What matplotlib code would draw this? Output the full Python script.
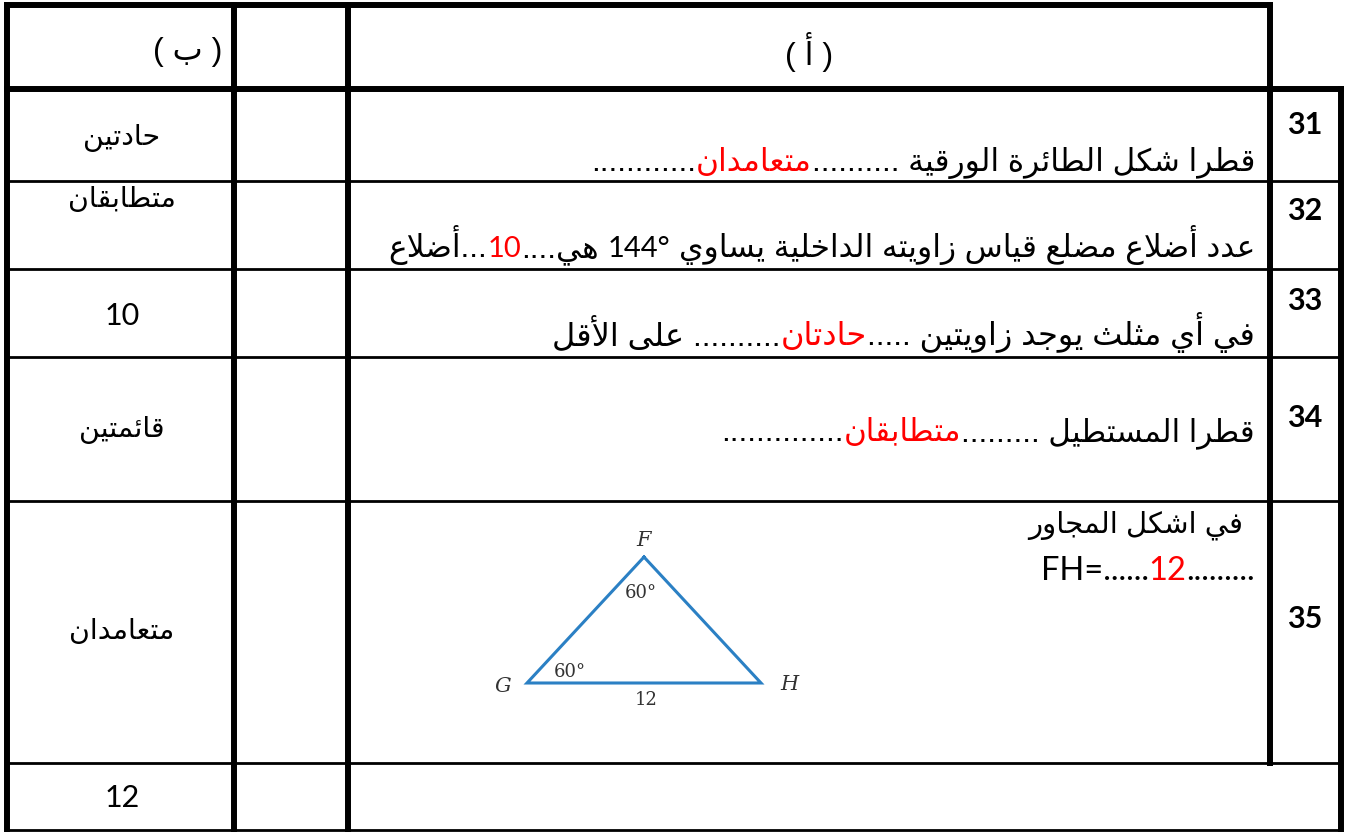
import re
import matplotlib
matplotlib.use('Agg')
import matplotlib.pyplot as plt

# ---- table content ----
headers = ['( ب )', '( أ )']
row_numbers = ['31', '32', '33', '34', '35']
answers_b = ['حادتين', 'متطابقان', '10', 'قائمتين', 'متعامدان', '12']

# statements, in reading order: (text, colour, font kind)
stmt_31 = [('قطرا شكل الطائرة الورقية ..........', 'black', 'ar'), ('متعامدان', 'red', 'ar'),
           ('............', 'black', 'ar')]
stmt_32 = [('عدد أضلاع مضلع قياس زاويته الداخلية يساوي ', 'black', 'ar'), ('144°', 'black', 'num'),
           (' هي....', 'black', 'ar'), ('10', 'red', 'num'), ('...أضلاع', 'black', 'ar')]
stmt_33 = [('في أي مثلث يوجد زاويتين .....', 'black', 'ar'), ('حادتان', 'red', 'ar'),
           ('.......... على الأقل', 'black', 'ar')]
stmt_34 = [('قطرا المستطيل .........', 'black', 'ar'), ('متطابقان', 'red', 'ar'),
           ('..............', 'black', 'ar')]
stmt_35 = [(' في اشكل المجاور', 'black', 'ar')]
fh_line = [('FH=......', 'black', 'num'), ('12', 'red', 'num'), ('.........', 'black', 'num')]

# triangle FGH
tri_names = ['F', 'G', 'H']
tri_angles = ['60°', '60°']
tri_side = '12'

# ---- minimal arabic shaping (matplotlib has no complex text layout) ----
FORMS = {
    'ء': (0xFE80, 1), 'آ': (0xFE81, 2), 'أ': (0xFE83, 2), 'ؤ': (0xFE85, 2), 'إ': (0xFE87, 2),
    'ئ': (0xFE89, 4), 'ا': (0xFE8D, 2), 'ب': (0xFE8F, 4), 'ة': (0xFE93, 2), 'ت': (0xFE95, 4),
    'ث': (0xFE99, 4), 'ج': (0xFE9D, 4), 'ح': (0xFEA1, 4), 'خ': (0xFEA5, 4), 'د': (0xFEA9, 2),
    'ذ': (0xFEAB, 2), 'ر': (0xFEAD, 2), 'ز': (0xFEAF, 2), 'س': (0xFEB1, 4), 'ش': (0xFEB5, 4),
    'ص': (0xFEB9, 4), 'ض': (0xFEBD, 4), 'ط': (0xFEC1, 4), 'ظ': (0xFEC5, 4), 'ع': (0xFEC9, 4),
    'غ': (0xFECD, 4), 'ف': (0xFED1, 4), 'ق': (0xFED5, 4), 'ك': (0xFED9, 4), 'ل': (0xFEDD, 4),
    'م': (0xFEE1, 4), 'ن': (0xFEE5, 4), 'ه': (0xFEE9, 4), 'و': (0xFEED, 2), 'ى': (0xFEEF, 2),
    'ي': (0xFEF1, 4),
}
LAM_ALEF = {'آ': 0xFEF5, 'أ': 0xFEF7, 'إ': 0xFEF9, 'ا': 0xFEFB}
MIRROR = {'(': ')', ')': '('}


def links_next(u):
    return isinstance(u, str) and u in FORMS and FORMS[u][1] == 4


def links_prev(u):
    return isinstance(u, tuple) or (u in FORMS and FORMS[u][1] > 1)


def shape(text):
    units = []
    i = 0
    while i < len(text):
        c = text[i]
        if c == 'ل' and i + 1 < len(text) and text[i + 1] in LAM_ALEF:
            units.append(('la', LAM_ALEF[text[i + 1]]))
            i += 2
        else:
            units.append(c)
            i += 1
    out = []
    for k, u in enumerate(units):
        prev = units[k - 1] if k > 0 else None
        nxt = units[k + 1] if k + 1 < len(units) else None
        p = prev is not None and links_next(prev)
        if isinstance(u, tuple):
            out.append(chr(u[1] + int(p)))
        elif u in FORMS:
            base, n = FORMS[u]
            q = nxt is not None and links_next(u) and links_prev(nxt)
            if n == 4:
                off = {(False, False): 0, (True, False): 1, (False, True): 2, (True, True): 3}[(p, q)]
            elif n == 2:
                off = int(p)
            else:
                off = 0
            out.append(chr(base + off))
        else:
            out.append(u)
    return ''.join(out)


def visual(text):
    s = shape(text)[::-1]
    s = ''.join(MIRROR.get(c, c) for c in s)
    return re.sub(r'[0-9A-Za-z°=]+', lambda m: m.group(0)[::-1], s)


AR = ['Liberation Sans', 'DejaVu Sans']
CAL = ['Lato', 'DejaVu Sans']

W, H = 1349, 832
fig = plt.figure(figsize=(W / 100, H / 100), dpi=100)
ax = fig.add_axes([0, 0, 1, 1])
ax.set_xlim(0, W)
ax.set_ylim(H, 0)
ax.axis('off')
renderer = fig.canvas.get_renderer()

# ---- grid ----
THICK, THIN = 4.3, 2.0
col_x = [7, 234, 348, 1270, 1341]
row_y = [5, 89, 181, 269, 357, 501, 763, 830]


def hline(y, x0, x1, lw):
    ax.plot([x0, x1], [y, y], color='black', lw=lw, solid_capstyle='projecting')


def vline(x, y0, y1, lw):
    ax.plot([x, x], [y0, y1], color='black', lw=lw, solid_capstyle='projecting')


hline(row_y[0], col_x[0], col_x[3], THICK)
hline(row_y[1], col_x[0], col_x[4], THICK)
for y in row_y[2:]:
    hline(y, col_x[0], col_x[4], THIN)
vline(col_x[0], row_y[0], row_y[-1], THICK)
vline(col_x[1], row_y[0], row_y[-1], THICK)
vline(col_x[2], row_y[0], row_y[-1], THICK)
vline(col_x[3], row_y[0], row_y[6], THICK)
vline(col_x[4], row_y[1], row_y[-1], THICK)

# ---- header ----
ax.text(222, 52, visual(headers[0]), ha='right', va='center', fontsize=23, family=AR)
ax.text(809, 52, visual(headers[1]), ha='center', va='center', fontsize=23, family=AR)

# ---- row numbers ----
num_y = [125, 211, 301, 418, 619]
for n, y in zip(row_numbers, num_y):
    ax.text(1305, y, n, ha='center', va='center', fontsize=22, fontweight='bold', family=CAL)

# ---- column (b) answers ----
b_y = [138, 200, 316, 430, 632, 798]
for a, y in zip(answers_b, b_y):
    fam = CAL if a.isdigit() else AR
    size = 22 if a.isdigit() else 20.5
    ax.text(122, y, visual(a), ha='center', va='center', fontsize=size, family=fam)


# ---- statements, laid out right to left ----
def draw_line(segments, x_right, y, ar_size, num_size, rtl=True):
    x = x_right
    order = segments if rtl else segments[::-1]
    for txt, color, kind in order:
        size = ar_size if kind == 'ar' else num_size
        fam = AR if kind == 'ar' else CAL
        gap = 0.28 * size * 100 / 72
        body = txt.strip(' ')
        lead = len(txt) - len(txt.lstrip(' '))
        trail = len(txt) - len(txt.rstrip(' '))
        if rtl:
            x -= lead * gap
        s = visual(body) if rtl else body
        t = ax.text(x, y, s, ha='right', va='baseline', fontsize=size, family=fam, color=color)
        x -= t.get_window_extent(renderer).width
        if rtl:
            x -= trail * gap


draw_line(stmt_31, 1255, 171, 22.5, 21)
draw_line(stmt_32, 1255, 257, 22.5, 21)
draw_line(stmt_33, 1255, 345, 23, 21)
draw_line(stmt_34, 1255, 441, 22.3, 21)
draw_line(stmt_35, 1251, 532, 21, 21)
draw_line(fh_line, 1255, 580, 21, 23.5, rtl=False)

# ---- triangle ----
tri_x = [644, 527, 761]
tri_y = [557, 683, 683]
ax.plot(tri_x + [tri_x[0]], tri_y + [tri_y[0]], color='#2b80c4', lw=2.2, solid_joinstyle='miter')
tc = '#333333'
ax.text(644, 541, tri_names[0], ha='center', va='center', fontsize=15, style='italic', family='DejaVu Serif', color=tc)
ax.text(503, 686, tri_names[1], ha='center', va='center', fontsize=15, style='italic', family='DejaVu Serif', color=tc)
ax.text(789, 685, tri_names[2], ha='center', va='center', fontsize=15, style='italic', family='DejaVu Serif', color=tc)
ax.text(641, 593, tri_angles[0], ha='center', va='center', fontsize=13, family='DejaVu Serif', color=tc)
ax.text(570, 672, tri_angles[1], ha='center', va='center', fontsize=13, family='DejaVu Serif', color=tc)
ax.text(646, 700, tri_side, ha='center', va='center', fontsize=13, family='DejaVu Serif', color=tc)

fig.savefig('out.png', dpi=100)
